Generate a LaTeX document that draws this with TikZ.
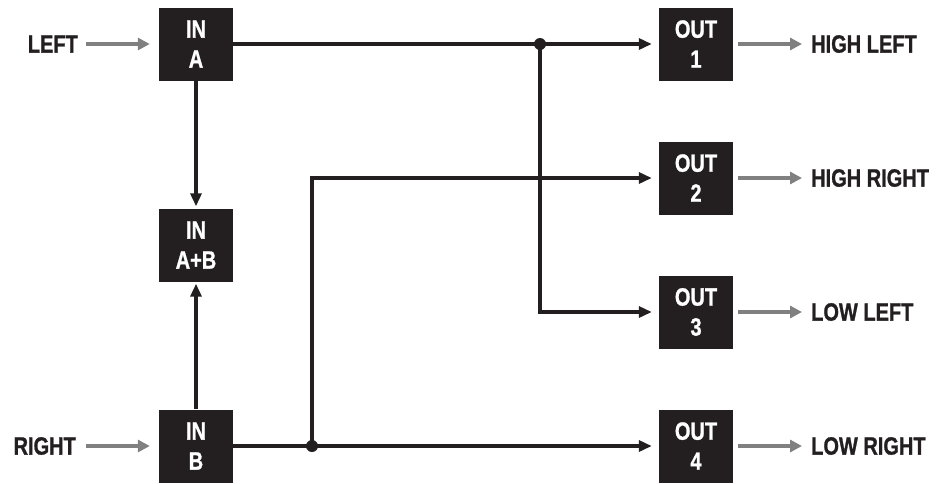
\documentclass[tikz,border=0pt]{standalone}
\usepackage{fontspec}
\setmainfont{Liberation Sans}[UprightFont=* Bold, UprightFeatures={FakeBold=1.2}]
\usetikzlibrary{arrows.meta}
\newcommand{\nar}[1]{\scalebox{0.8}[1]{#1}}
\definecolor{boxfill}{HTML}{231F20}
\definecolor{arrgray}{HTML}{808080}
\tikzset{
  blk/.style={draw=none, fill=boxfill, text=white, minimum width=74pt, minimum height=73pt,
    inner sep=0pt, align=center, font=\fontsize{25pt}{30pt}\selectfont},
  lbl/.style={inner sep=0pt, text=boxfill, font=\fontsize{25pt}{30pt}\selectfont},
  wire/.style={line width=3.5pt, draw=boxfill},
  warrow/.style={wire, -{Triangle[length=13pt,width=11pt]}},
  garrow/.style={line width=3.5pt, draw=arrgray, -{Triangle[length=12pt,width=12pt]}},
  jdot/.style={circle, fill=boxfill, inner sep=0pt, minimum size=12pt},
}
\begin{document}
\begin{tikzpicture}[x=1pt,y=-1pt]
\useasboundingbox (0,0) rectangle (944,483);
% boxes
\node[blk] (ina) at (196,44) {\nar{IN}\\\nar{A}};
\node[blk] (inab) at (196,245) {\nar{IN}\\\nar{A+B}};
\node[blk] (inb) at (196,446) {\nar{IN}\\\nar{B}};
\node[blk] (out1) at (696,44) {\nar{OUT}\\\nar{1}};
\node[blk] (out2) at (696,178) {\nar{OUT}\\\nar{2}};
\node[blk] (out3) at (696,312) {\nar{OUT}\\\nar{3}};
\node[blk] (out4) at (696,446) {\nar{OUT}\\\nar{4}};
% labels
\node[lbl, anchor=east] (lleft) at (78,44) {\nar{LEFT}};
\node[lbl, anchor=east] (lright) at (76,446) {\nar{RIGHT}};
\node[lbl, anchor=west] (hl) at (811,44) {\nar{HIGH LEFT}};
\node[lbl, anchor=west] (hr) at (811,178) {\nar{HIGH RIGHT}};
\node[lbl, anchor=west] (ll) at (811,312) {\nar{LOW LEFT}};
\node[lbl, anchor=west] (lr) at (811,446) {\nar{LOW RIGHT}};
% junctions
\coordinate (j1) at (540,44);
\coordinate (j2) at (312,446);
% gray arrows
\draw[garrow, shorten <=8pt, shorten >=9pt] (lleft.east) -- (ina.west);
\draw[garrow, shorten <=10pt, shorten >=9pt] (lright.east) -- (inb.west);
\draw[garrow, shorten <=5pt, shorten >=9pt] (out1.east) -- (hl.west);
\draw[garrow, shorten <=5pt, shorten >=9pt] (out2.east) -- (hr.west);
\draw[garrow, shorten <=5pt, shorten >=9pt] (out3.east) -- (ll.west);
\draw[garrow, shorten <=5pt, shorten >=9pt] (out4.east) -- (lr.west);
% black wires
\draw[warrow, shorten >=2pt] (ina.south) -- (inab.north);
\draw[warrow, shorten >=2pt] (inb.north) -- (inab.south);
\draw[warrow, shorten >=7pt] (ina.east) -- (out1.west);
\draw[warrow, shorten >=7pt] (j1) |- (out3.west);
\draw[warrow, shorten >=7pt] (inb.east) -- (out4.west);
\draw[warrow, shorten >=7pt] (j2) |- (out2.west);
\node[jdot] (d1) at (j1) {};
\node[jdot] (d2) at (j2) {};
\end{tikzpicture}
\end{document}
